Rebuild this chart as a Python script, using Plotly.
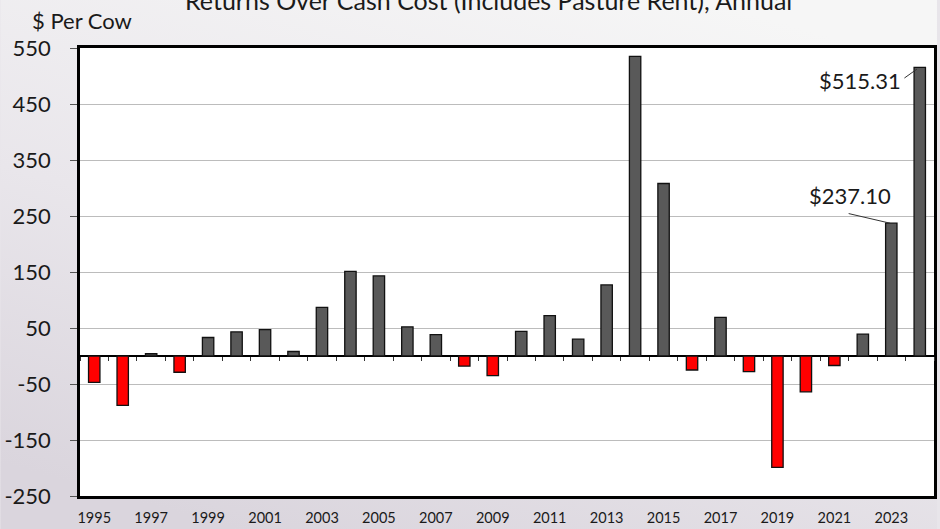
import base64
import plotly.graph_objects as go

# ---- data ----
years = list(range(1995, 2025))
returns = [-47, -88, 4, -29, 33, 43, 47, 8, 87, 151, 143, 52, 38, -18, -35,
           44, 72, 30, 127, 535, 308, -25, 69, -28, -199, -64, -17, 39, 237.10, 515.31]
label_years = list(range(1995, 2024, 2))
y_ticks = [-250, -150, -50, 50, 150, 250, 350, 450, 550]
title_text = "Returns Over Cash Cost (Includes Pasture Rent), Annual"
y_label = "$ Per Cow"

FONT = "Lato"
W, H = 940, 529
ML, MR, MT, MB = 80, 3, 48, 33
PW, PH = W - ML - MR, H - MT - MB

pos_color = "#595959"
neg_color = "#ff0000"
bar_colors = [pos_color if v >= 0 else neg_color for v in returns]

fig = go.Figure()
fig.add_trace(go.Bar(
    x=years, y=returns, width=0.4,
    marker=dict(color=bar_colors, line=dict(color="#111111", width=1.3)),
    showlegend=False, hoverinfo="x+y",
))
# invisible trace to carry the category-boundary tick axis at zero
fig.add_trace(go.Scatter(
    x=years, y=returns, xaxis="x2", mode="markers",
    marker=dict(opacity=0), showlegend=False, hoverinfo="skip",
))

# slide-like gradient background via inline SVG
svg = f'''<svg xmlns="http://www.w3.org/2000/svg" width="{W}" height="{H}">
<defs><linearGradient id="g" x1="0.75" y1="0" x2="0.25" y2="1">
<stop offset="0" stop-color="#f6f6f6"/><stop offset="0.55" stop-color="#e9e6eb"/>
<stop offset="1" stop-color="#dad5dd"/></linearGradient></defs>
<rect width="{W}" height="{H}" fill="url(#g)"/></svg>'''
src = "data:image/svg+xml;base64," + base64.b64encode(svg.encode()).decode()

fig.update_layout(
    width=W, height=H,
    margin=dict(l=ML, r=MR, t=MT, b=MB, pad=0),
    paper_bgcolor="#e8e5ea",
    plot_bgcolor="#ffffff",
    font=dict(family=FONT, color="#1a1a1a"),
    images=[dict(source=src, xref="paper", yref="paper",
                 x=-ML / PW, y=1 + MT / PH, sizex=W / PW, sizey=H / PH,
                 xanchor="left", yanchor="top", sizing="stretch", layer="below")],
    shapes=[dict(type="rect", xref="paper", yref="paper", x0=0, x1=1, y0=0, y1=1,
                 fillcolor="#ffffff", line=dict(width=0), layer="below")],
    xaxis=dict(
        range=[1994.5, 2024.5], tickmode="array", tickvals=label_years,
        ticktext=[str(y) for y in label_years], ticks="", showgrid=False,
        zeroline=False, showline=True, mirror=True, linecolor="#000000",
        linewidth=2.5, tickfont=dict(size=14.5, color="#1a1a1a"),
        ticklabelstandoff=7,
    ),
    xaxis2=dict(
        overlaying="x", anchor="free", position=250 / 800, side="bottom",
        range=[1994.5, 2024.5], tickmode="linear", tick0=1994.5, dtick=1,
        ticks="outside", ticklen=4, tickwidth=1.3, tickcolor="#333333",
        showticklabels=False, showgrid=False, zeroline=False, showline=False,
    ),
    yaxis=dict(
        range=[-250, 550], tickmode="array", tickvals=y_ticks,
        ticktext=[str(v) for v in y_ticks],
        showgrid=True, gridcolor="#bcbcbc", gridwidth=1.4,
        zeroline=True, zerolinecolor="#000000", zerolinewidth=2,
        showline=True, mirror=True, linecolor="#000000", linewidth=2.5,
        ticks="outside", ticklen=7, tickwidth=1.3, tickcolor="#555555",
        tickfont=dict(size=22, color="#1a1a1a"), ticklabelstandoff=15,
    ),
    annotations=[
        dict(text=title_text, xref="paper", yref="paper",
             x=(490 - ML) / PW, y=(H - MB + 0) / PH, xanchor="center",
             yanchor="middle", showarrow=False,
             font=dict(size=25, color="#1a1a1a")),
        dict(text=y_label, xref="paper", yref="paper",
             x=(82 - ML) / PW, y=(H - MB - 20) / PH, xanchor="center",
             yanchor="middle", showarrow=False,
             font=dict(size=22, color="#1a1a1a")),
        # value labels
        dict(text=f"${returns[-1]:.2f}", x=years[-1], y=returns[-1],
             xshift=-60, yshift=-13, showarrow=False,
             font=dict(size=22, color="#1a1a1a")),
        dict(text=f"${returns[-2]:.2f}", x=years[-2], y=returns[-2],
             xshift=-41, yshift=28, showarrow=False,
             font=dict(size=22, color="#1a1a1a")),
        # leader lines
        dict(text="", x=years[-1] - 0.1, y=returns[-1] - 3, ax=-14, ay=10,
             showarrow=True, arrowhead=0, arrowwidth=1, arrowcolor="#333333",
             standoff=0, startstandoff=0),
        dict(text="", x=years[-2] - 0.04, y=returns[-2], ax=-43, ay=-10,
             showarrow=True, arrowhead=0, arrowwidth=1, arrowcolor="#333333",
             standoff=0, startstandoff=0),
    ],
)

fig.write_html("out.html", config={"displayModeBar": False},
               post_script="document.body.style.margin='0';")
